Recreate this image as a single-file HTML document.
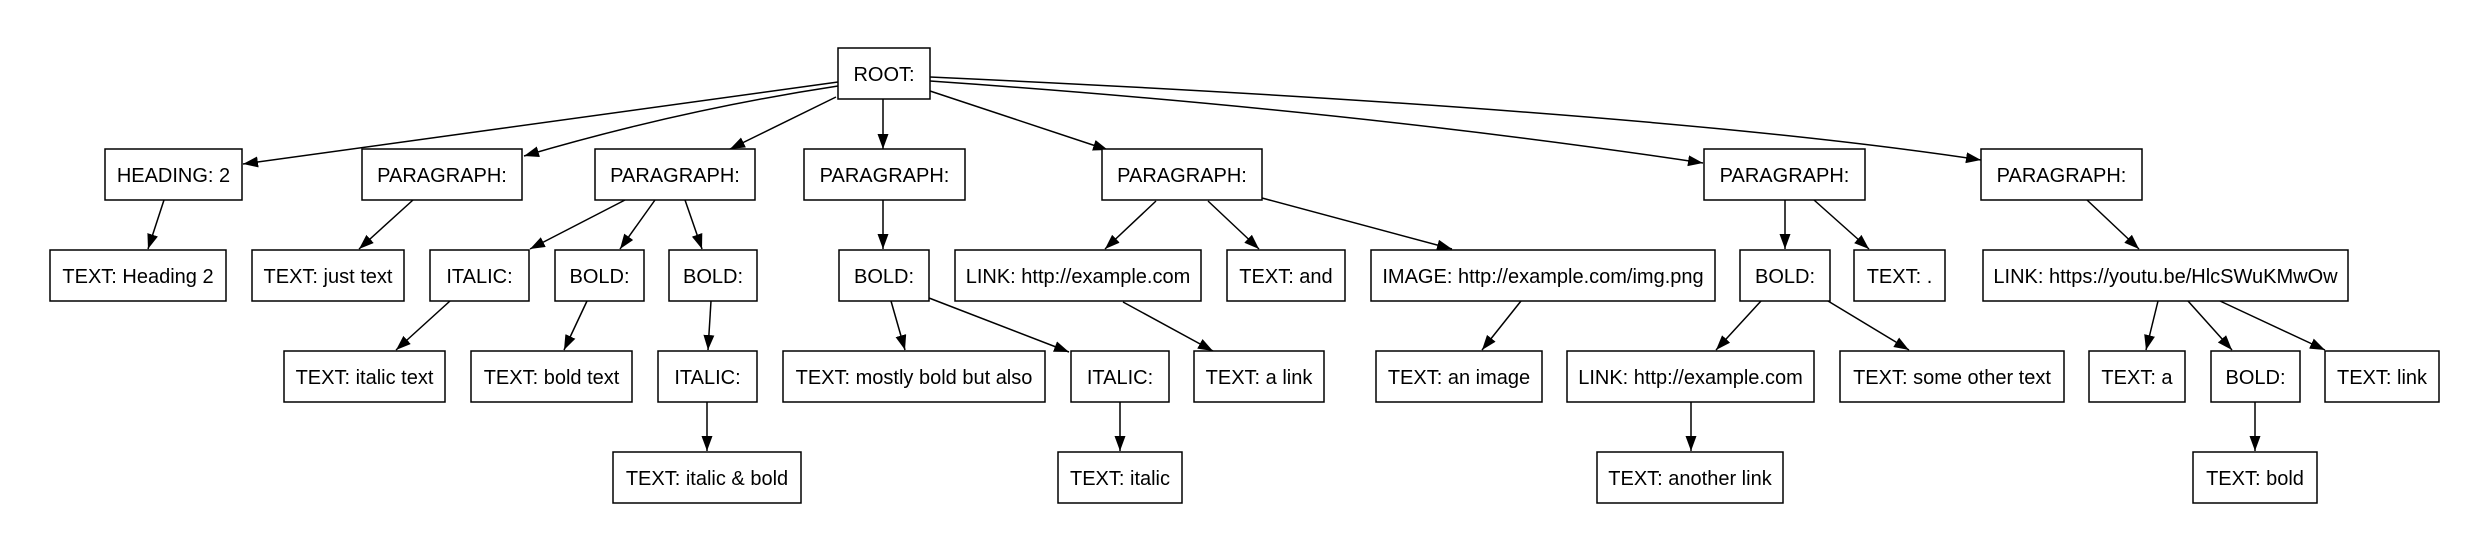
<!DOCTYPE html>
<html><head><meta charset="utf-8"><style>
html,body{margin:0;padding:0;background:#fff;}
svg{display:block;}
text{font-family:"Liberation Sans",Arial,sans-serif;font-size:20px;fill:#000;text-anchor:middle;}
rect{fill:#fff;stroke:#000;stroke-width:1.5;}
.e{stroke:#000;stroke-width:1.5;fill:none;marker-end:url(#a);}
</style></head><body>
<svg width="2491" height="553" viewBox="0 0 2491 553" xmlns="http://www.w3.org/2000/svg">
<defs><marker id="a" markerUnits="userSpaceOnUse" markerWidth="16" markerHeight="12" refX="15" refY="5.5" orient="auto"><path d="M0,0 L15,5.5 L0,11 z" fill="#000"/></marker></defs>
<rect x="0" y="0" width="2491" height="553" style="fill:#fff;stroke:none"/>
<!-- edges -->
<path class="e" d="M838,82 Q560,120 243,164"/>
<path class="e" d="M838,86 Q680,110 524,156"/>
<path class="e" d="M836,97 L730,149"/>
<path class="e" d="M883,99 L883,149"/>
<path class="e" d="M930,91 L1108,150"/>
<path class="e" d="M930,81 Q1350,110 1703,163"/>
<path class="e" d="M930,77 Q1650,110 1981,160"/>
<path class="e" d="M164,200 L148,249"/>
<path class="e" d="M413,200 L359,249"/>
<path class="e" d="M625,200 L530,249"/>
<path class="e" d="M655,200 L620,249"/>
<path class="e" d="M685,200 L702,249"/>
<path class="e" d="M883,200 L883,249"/>
<path class="e" d="M1156,201 L1105,249"/>
<path class="e" d="M1208,201 L1259,249"/>
<path class="e" d="M1262,198 L1452,249"/>
<path class="e" d="M450,301 L396,350"/>
<path class="e" d="M587,301 L564,350"/>
<path class="e" d="M711,301 L708,350"/>
<path class="e" d="M891,301 L905,350"/>
<path class="e" d="M929,298 L1069,352"/>
<path class="e" d="M1123,302 L1213,351"/>
<path class="e" d="M707,402 L707,451"/>
<path class="e" d="M1120,402 L1120,451"/>
<path class="e" d="M1521,301 L1482,350"/>
<path class="e" d="M1785,200 L1785,249"/>
<path class="e" d="M1814,200 L1869,249"/>
<path class="e" d="M2087,200 L2139,249"/>
<path class="e" d="M1761,301 L1716,350"/>
<path class="e" d="M1828,301 L1909,350"/>
<path class="e" d="M2158,301 L2146,350"/>
<path class="e" d="M2188,301 L2232,350"/>
<path class="e" d="M2220,301 L2325,350"/>
<path class="e" d="M1691,402 L1691,451"/>
<path class="e" d="M2255,402 L2255,451"/>
<!-- row 1 -->
<rect x="838" y="48" width="92" height="51"/><text x="884" y="81">ROOT:</text>
<!-- row 2 -->
<rect x="105" y="149" width="137" height="51"/><text x="173.5" y="182">HEADING: 2</text>
<rect x="362" y="149" width="160" height="51"/><text x="442" y="182">PARAGRAPH:</text>
<rect x="595" y="149" width="160" height="51"/><text x="675" y="182">PARAGRAPH:</text>
<rect x="804" y="149" width="161" height="51"/><text x="884.5" y="182">PARAGRAPH:</text>
<rect x="1102" y="149" width="160" height="51"/><text x="1182" y="182">PARAGRAPH:</text>
<rect x="1704" y="149" width="161" height="51"/><text x="1784.5" y="182">PARAGRAPH:</text>
<rect x="1981" y="149" width="161" height="51"/><text x="2061.5" y="182">PARAGRAPH:</text>
<!-- row 3 -->
<rect x="50" y="250" width="176" height="51"/><text x="138" y="283">TEXT: Heading 2</text>
<rect x="252" y="250" width="152" height="51"/><text x="328" y="283">TEXT: just text</text>
<rect x="430" y="250" width="99" height="51"/><text x="479.5" y="283">ITALIC:</text>
<rect x="555" y="250" width="89" height="51"/><text x="599.5" y="283">BOLD:</text>
<rect x="669" y="250" width="88" height="51"/><text x="713" y="283">BOLD:</text>
<rect x="839" y="250" width="90" height="51"/><text x="884" y="283">BOLD:</text>
<rect x="955" y="250" width="246" height="51"/><text x="1078" y="283">LINK: http://example.com</text>
<rect x="1227" y="250" width="118" height="51"/><text x="1286" y="283">TEXT: and</text>
<rect x="1371" y="250" width="344" height="51"/><text x="1543" y="283">IMAGE: http://example.com/img.png</text>
<rect x="1740" y="250" width="90" height="51"/><text x="1785" y="283">BOLD:</text>
<rect x="1854" y="250" width="91" height="51"/><text x="1899.5" y="283">TEXT: .</text>
<rect x="1983" y="250" width="365" height="51"/><text x="2165.5" y="283">LINK: https://youtu.be/HlcSWuKMwOw</text>
<!-- row 4 -->
<rect x="284" y="351" width="161" height="51"/><text x="364.5" y="384">TEXT: italic text</text>
<rect x="471" y="351" width="161" height="51"/><text x="551.5" y="384">TEXT: bold text</text>
<rect x="658" y="351" width="99" height="51"/><text x="707.5" y="384">ITALIC:</text>
<rect x="783" y="351" width="262" height="51"/><text x="914" y="384">TEXT: mostly bold but also</text>
<rect x="1071" y="351" width="98" height="51"/><text x="1120" y="384">ITALIC:</text>
<rect x="1194" y="351" width="130" height="51"/><text x="1259" y="384">TEXT: a link</text>
<rect x="1376" y="351" width="166" height="51"/><text x="1459" y="384">TEXT: an image</text>
<rect x="1567" y="351" width="247" height="51"/><text x="1690.5" y="384">LINK: http://example.com</text>
<rect x="1840" y="351" width="224" height="51"/><text x="1952" y="384">TEXT: some other text</text>
<rect x="2089" y="351" width="96" height="51"/><text x="2137" y="384">TEXT: a</text>
<rect x="2211" y="351" width="89" height="51"/><text x="2255.5" y="384">BOLD:</text>
<rect x="2325" y="351" width="114" height="51"/><text x="2382" y="384">TEXT: link</text>
<!-- row 5 -->
<rect x="613" y="452" width="188" height="51"/><text x="707" y="485">TEXT: italic &amp; bold</text>
<rect x="1058" y="452" width="124" height="51"/><text x="1120" y="485">TEXT: italic</text>
<rect x="1597" y="452" width="186" height="51"/><text x="1690" y="485">TEXT: another link</text>
<rect x="2193" y="452" width="124" height="51"/><text x="2255" y="485">TEXT: bold</text>
</svg>
</body></html>
